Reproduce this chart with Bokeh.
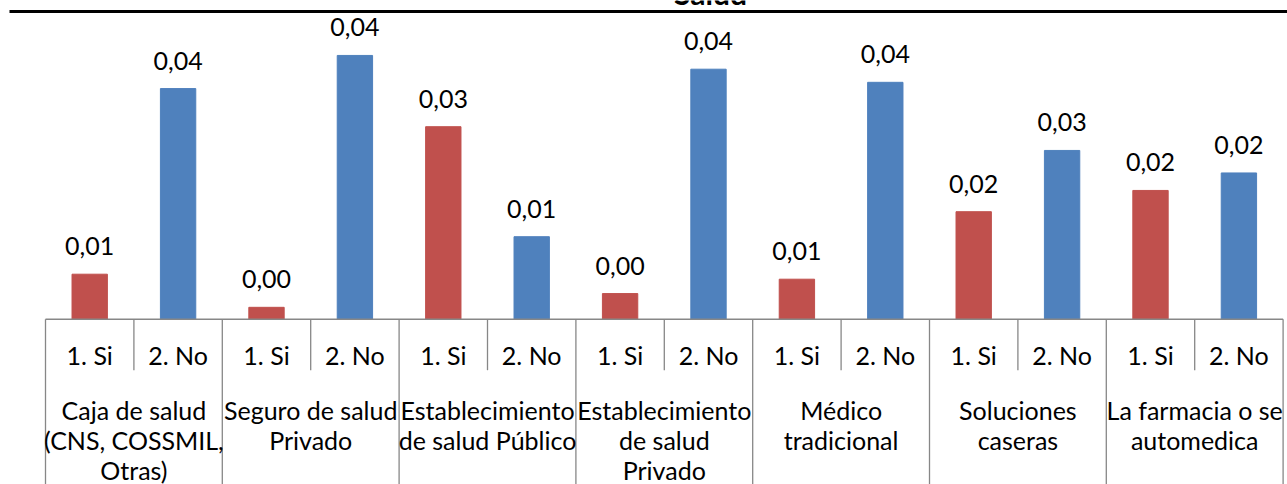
from bokeh.plotting import figure
from bokeh.models import Range1d, ColumnDataSource
from bokeh.core.properties import value
from bokeh.embed import file_html
from bokeh.resources import INLINE

# ---------------- data ----------------
title = "Salud"
groups = [
    "Caja de salud\n(CNS, COSSMIL,\nOtras)",
    "Seguro de salud\nPrivado",
    "Establecimiento\nde salud Público",
    "Establecimiento\nde salud\nPrivado",
    "Médico\ntradicional",
    "Soluciones\ncaseras",
    "La farmacia o se\nautomedica",
]
answers = ["1. Si", "2. No"]
si_values = [0.0072, 0.0019, 0.0308, 0.0041, 0.0064, 0.0172, 0.0206]
no_values = [0.0369, 0.0422, 0.0132, 0.0400, 0.0379, 0.0270, 0.0234]
si_color = "#C0504D"
no_color = "#4F81BD"

# ---------------- layout ----------------
W, H = 1287, 484
LEFT_PX = 45.0          # canvas x of the category axis start
SUB_PX = 88.4           # width of one sub-category slot
BASE_PX = 318.7         # canvas row of value 0
PX_PER_UNIT = 6250.0    # pixels per value unit
FONT = value("Lato")
FS = "25px"
AXIS_COL = "#878787"

n_sub = len(groups) * len(answers)
x_start = -LEFT_PX / SUB_PX
x_end = x_start + W / SUB_PX
y_top = BASE_PX / PX_PER_UNIT
y_bot = -(H - BASE_PX) / PX_PER_UNIT

p = figure(width=W, height=H, output_backend="svg", toolbar_location=None,
           x_range=Range1d(x_start, x_end), y_range=Range1d(y_bot, y_top),
           min_border=0, min_border_left=0, min_border_right=0,
           min_border_top=0, min_border_bottom=0)
p.extra_y_ranges = {"rows": Range1d(H, 0)}
p.axis.visible = False
p.grid.visible = False
p.outline_line_color = None
p.background_fill_color = "white"
p.border_fill_color = "white"

def fmt(v):
    return f"{v:.2f}".replace(".", ",")

si_x = [2 * i + 0.5 for i in range(len(groups))]
no_x = [2 * i + 1.5 for i in range(len(groups))]

si_src = ColumnDataSource(dict(x=si_x, top=si_values, lab=[fmt(v) for v in si_values]))
no_src = ColumnDataSource(dict(x=no_x, top=no_values, lab=[fmt(v) for v in no_values]))

p.vbar(x="x", top="top", bottom=0, width=0.4, source=si_src,
       fill_color=si_color, line_color=si_color)
p.vbar(x="x", top="top", bottom=0, width=0.4, source=no_src,
       fill_color=no_color, line_color=no_color)

for src in (si_src, no_src):
    p.text(x="x", y="top", text="lab", source=src, y_offset=-19,
           text_align="center", text_baseline="bottom",
           text_font=FONT, text_font_size=FS, text_color="#000000")

# ---------------- category axis ----------------
p.segment(x0=[0], y0=[BASE_PX], x1=[n_sub], y1=[BASE_PX], y_range_name="rows",
          line_color=AXIS_COL, line_width=1.6)
grp_edges = list(range(0, n_sub + 1, 2))
sub_edges = list(range(1, n_sub, 2))
p.segment(x0=grp_edges, y0=[BASE_PX] * len(grp_edges), x1=grp_edges,
          y1=[H] * len(grp_edges), y_range_name="rows",
          line_color=AXIS_COL, line_width=1.3)
p.segment(x0=sub_edges, y0=[BASE_PX] * len(sub_edges), x1=sub_edges,
          y1=[BASE_PX + 51] * len(sub_edges), y_range_name="rows",
          line_color=AXIS_COL, line_width=1.3)

sub_lab_x = [i + 0.5 for i in range(n_sub)]
sub_lab_t = [answers[i % 2] for i in range(n_sub)]
p.text(x=sub_lab_x, y=[BASE_PX + 36] * n_sub, text=sub_lab_t, y_range_name="rows",
       text_align="center", text_baseline="middle",
       text_font=FONT, text_font_size=FS, text_color="#000000")

gx, gy, gt = [], [], []
for g, name in enumerate(groups):
    for k, line in enumerate(name.split("\n")):
        gx.append(2 * g + 1)
        gy.append(BASE_PX + 91 + 30 * k)
        gt.append(line)
p.text(x=gx, y=gy, text=gt, y_range_name="rows",
       text_align="center", text_baseline="middle",
       text_font=FONT, text_font_size=FS, text_color="#000000")

# ---------------- top rule and (cut) title ----------------
p.segment(x0=[x_start + 9 / SUB_PX], y0=[11], x1=[x_end], y1=[11], y_range_name="rows",
          line_color="black", line_width=3)
p.text(x=[x_start + 710 / SUB_PX], y=[10], text=[title], y_range_name="rows",
       text_align="center", text_baseline="bottom",
       text_font=FONT, text_font_style="bold", text_font_size="30px",
       text_color="black")

open("out.html", "w").write(file_html(p, INLINE))
